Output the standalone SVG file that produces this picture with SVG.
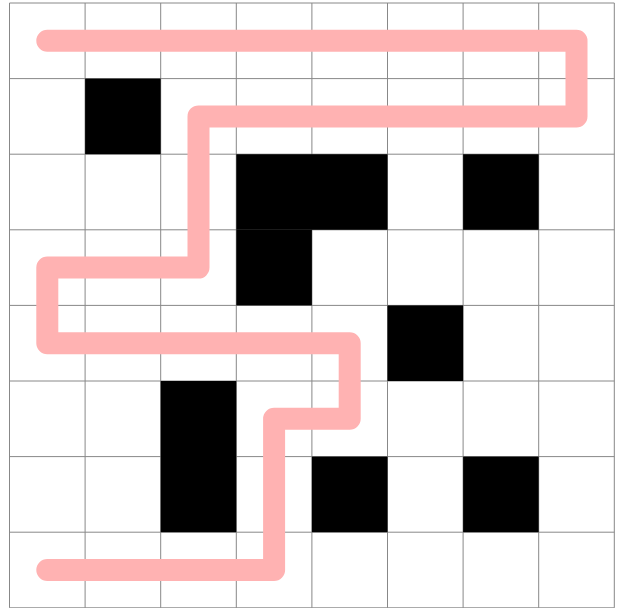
<svg xmlns="http://www.w3.org/2000/svg" width="618" height="608" viewBox="0 0 618 608">
<style>
.cell{fill:#000}
.grid{stroke:#888;stroke-width:1;fill:none}
.route{stroke:#ffb2b2;stroke-width:22;fill:none;stroke-linecap:round;stroke-linejoin:round}
</style>
<rect x="0" y="0" width="618" height="608" fill="#fff"/>
<g id="grid" class="grid">
<path d="M9.5 3V607.8M85.1 3V607.8M160.7 3V607.8M236.3 3V607.8M311.9 3V607.8M387.5 3V607.8M463.1 3V607.8M538.7 3V607.8M614.3 3V607.8"/>
<path d="M9.5 3H614.3M9.5 78.6H614.3M9.5 154.2H614.3M9.5 229.8H614.3M9.5 305.4H614.3M9.5 381H614.3M9.5 456.6H614.3M9.5 532.2H614.3M9.5 607.8H614.3"/>
</g>
<g id="walls">
<rect class="cell" x="85.1" y="78.6" width="75.6" height="75.6"/>
<rect class="cell" x="236.3" y="154.2" width="151.2" height="75.6"/>
<rect class="cell" x="463.1" y="154.2" width="75.6" height="75.6"/>
<rect class="cell" x="236.3" y="229.8" width="75.6" height="75.6"/>
<rect class="cell" x="387.5" y="305.4" width="75.6" height="75.6"/>
<rect class="cell" x="160.7" y="381" width="75.6" height="151.2"/>
<rect class="cell" x="311.9" y="456.6" width="75.6" height="75.6"/>
<rect class="cell" x="463.1" y="456.6" width="75.6" height="75.6"/>
</g>
<g id="connectors">
<path class="route" d="M47.3 40.8H576.5V116.4H198.5V267.6H47.3V343.2H349.7V418.8H274.1V570H47.3"/>
</g>
</svg>
